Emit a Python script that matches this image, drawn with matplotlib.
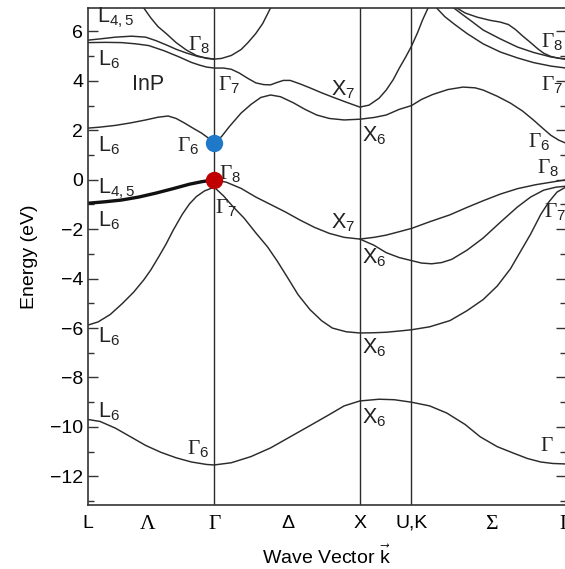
import matplotlib
matplotlib.use("Agg")
import matplotlib.pyplot as plt
from matplotlib.ticker import MultipleLocator

plt.rcParams['font.family'] = ['Liberation Sans', 'DejaVu Sans']
plt.rcParams['mathtext.fontset'] = 'custom'
plt.rcParams['mathtext.rm'] = 'Liberation Sans'
plt.rcParams['mathtext.default'] = 'rm'

# high symmetry points along the path (units of 2pi/a)
sym_names = ['L', 'Λ', 'Γ', 'Δ', 'X', 'U,K', 'Σ', 'Γ']
sym_k = [0.0, 0.41, 0.866, 1.37, 1.866, 2.220, 2.768, 3.281]
vlines_k = [0.866, 1.866, 2.220]

# valence bands
k_v1 = [0, 0.083, 0.188, 0.292, 0.396, 0.501, 0.605, 0.710, 0.814, 0.866, 0.984, 1.119, 1.253,
        1.388, 1.523, 1.657, 1.758, 1.866, 1.998, 2.102, 2.220, 2.345, 2.463, 2.588, 2.692,
        2.809, 2.920, 3.017, 3.108, 3.191, 3.281]
e_v1 = [-9.70, -9.78, -10.05, -10.40, -10.75, -11.03, -11.25, -11.42, -11.52, -11.54, -11.45,
        -11.20, -10.85, -10.40, -9.95, -9.50, -9.15, -8.95, -8.88, -8.90, -9.00, -9.15, -9.44,
        -9.90, -10.40, -10.80, -11.06, -11.28, -11.42, -11.48, -11.50]

k_v2 = [0, 0.070, 0.153, 0.237, 0.313, 0.383, 0.431, 0.487, 0.536, 0.584, 0.647, 0.696, 0.744,
        0.800, 0.866, 0.930, 0.997, 1.071, 1.152, 1.233, 1.300, 1.368, 1.442, 1.523, 1.603,
        1.677, 1.772, 1.866, 1.963, 2.047, 2.137, 2.220, 2.345, 2.484, 2.601, 2.712, 2.809,
        2.900, 2.969, 3.038, 3.108, 3.163, 3.219, 3.281]
e_v2 = [-5.88, -5.75, -5.45, -5.00, -4.55, -4.05, -3.65, -3.10, -2.60, -2.05, -1.40, -0.98,
        -0.68, -0.45, -0.30, -0.65, -1.10, -1.55, -2.15, -2.72, -3.30, -3.94, -4.65, -5.25,
        -5.70, -6.00, -6.15, -6.20, -6.19, -6.17, -6.12, -6.07, -5.95, -5.70, -5.30, -4.85,
        -4.30, -3.60, -2.90, -2.20, -1.40, -0.90, -0.50, -0.29]

# L4,5 / L6 pair, drawn as one heavy line
k_hh = [0, 0.118, 0.230, 0.348, 0.466, 0.584, 0.696, 0.779, 0.866]
e_hh = [-0.95, -0.89, -0.82, -0.70, -0.54, -0.36, -0.18, -0.08, 0.0]

k_v3 = [0.866, 0.950, 1.051, 1.152, 1.253, 1.354, 1.455, 1.556, 1.657, 1.758, 1.866, 1.963,
        2.047, 2.137, 2.220, 2.345, 2.484, 2.601, 2.712, 2.830, 2.948, 3.073, 3.177, 3.281]
e_v3 = [0.0, -0.10, -0.35, -0.70, -1.00, -1.30, -1.63, -1.93, -2.17, -2.33, -2.40, -2.33,
        -2.24, -2.10, -1.97, -1.70, -1.42, -1.12, -0.85, -0.58, -0.36, -0.20, -0.10, 0.0]

k_v4 = [1.866, 1.963, 2.047, 2.137, 2.220, 2.289, 2.359, 2.428, 2.497, 2.601, 2.712, 2.830,
        2.948, 3.038, 3.128, 3.212, 3.281]
e_v4 = [-2.40, -2.65, -2.95, -3.15, -3.27, -3.37, -3.40, -3.35, -3.22, -2.85, -2.36, -1.72,
        -1.10, -0.70, -0.42, -0.30, -0.26]

# conduction bands
k_c1 = [0, 0.083, 0.188, 0.292, 0.396, 0.480, 0.550, 0.605, 0.661, 0.723, 0.779, 0.828, 0.866,
        0.917, 0.970, 1.051, 1.119, 1.186, 1.253, 1.321, 1.408, 1.489, 1.570, 1.657, 1.758,
        1.866, 1.963, 2.047, 2.137, 2.220, 2.289, 2.366, 2.470, 2.574, 2.657, 2.712, 2.809,
        2.900, 2.983, 3.059, 3.122, 3.177, 3.232, 3.281]
e_c1 = [2.09, 2.13, 2.20, 2.30, 2.42, 2.53, 2.58, 2.48, 2.30, 2.08, 1.89, 1.68, 1.48, 1.75,
        2.15, 2.70, 3.05, 3.33, 3.43, 3.36, 3.12, 2.85, 2.62, 2.48, 2.42, 2.45, 2.52, 2.62,
        2.85, 3.00, 3.25, 3.45, 3.65, 3.75, 3.72, 3.63, 3.38, 3.10, 2.78, 2.41, 2.08, 1.80,
        1.60, 1.48]

k_c2 = [0, 0.118, 0.230, 0.327, 0.417, 0.522, 0.626, 0.709, 0.765, 0.814, 0.866, 0.930, 0.984,
        1.038, 1.092, 1.152, 1.206, 1.253, 1.294, 1.341, 1.388, 1.455, 1.523, 1.603, 1.677,
        1.772, 1.866, 1.929, 1.998, 2.047, 2.095, 2.137, 2.179, 2.220, 2.262, 2.296, 2.334, 2.352]
e_c2 = [5.55, 5.56, 5.55, 5.50, 5.43, 5.22, 4.97, 4.75, 4.64, 4.56, 4.52, 4.52, 4.47, 4.32,
        4.12, 3.92, 3.85, 3.84, 3.93, 4.02, 4.02, 3.88, 3.72, 3.52, 3.35, 3.14, 2.94, 3.02,
        3.30, 3.63, 4.05, 4.52, 4.95, 5.40, 5.95, 6.46, 6.95, 7.20]

k_c3 = [0, 0.083, 0.188, 0.299, 0.396, 0.466, 0.536, 0.605, 0.675, 0.758, 0.866]
e_c3 = [5.65, 5.70, 5.77, 5.81, 5.77, 5.63, 5.46, 5.28, 5.13, 4.98, 4.88]

k_c4 = [0.369, 0.383, 0.431, 0.480, 0.536, 0.605, 0.675, 0.744, 0.814, 0.866, 0.917, 0.984,
        1.051, 1.098, 1.152, 1.199, 1.253, 1.267]
e_c4 = [7.10, 6.95, 6.55, 6.20, 5.92, 5.55, 5.25, 5.03, 4.91, 4.88, 4.91, 5.03, 5.27, 5.55,
        5.92, 6.32, 6.95, 7.10]

k_c5 = [2.380, 2.393, 2.449, 2.518, 2.601, 2.712, 2.830, 2.948, 3.059, 3.177, 3.281]
e_c5 = [7.10, 6.95, 6.60, 6.28, 5.92, 5.50, 5.17, 4.93, 4.74, 4.60, 4.52]

k_c6 = [2.497, 2.511, 2.567, 2.636, 2.712, 2.830, 2.948, 3.059, 3.177, 3.281]
e_c6 = [7.10, 6.95, 6.70, 6.40, 6.06, 5.70, 5.37, 5.15, 4.97, 4.88]

k_c7 = [2.518, 2.532, 2.588, 2.671, 2.761, 2.830, 2.886, 2.934, 2.983, 3.038, 3.087, 3.128,
        3.177, 3.226, 3.281]
e_c7 = [7.10, 6.95, 6.75, 6.58, 6.45, 6.38, 6.28, 6.08, 5.82, 5.55, 5.30, 5.12, 4.99, 4.92, 4.88]

# band edges marked with dots
gap_k = [0.866, 0.866]
gap_e = [1.48, 0.0]
gap_colors = ['#1f78c8', '#c00000']

# state labels: text, k, E, alignment, serif
state_labels = [
    ('L$_{4,5}$', 0.063, 6.55, 'left', False),
    ('L$_6$', 0.070, 4.85, 'left', False),
    ('Γ$_8$', 0.838, 5.45, 'right', True),
    ('InP', 0.41, 3.87, 'center', False),
    ('Γ$_7$', 0.892, 3.83, 'left', True),
    ('L$_6$', 0.070, 1.36, 'left', False),
    ('Γ$_6$', 0.765, 1.36, 'right', True),
    ('Γ$_8$', 0.900, 0.24, 'left', True),
    ('L$_{4,5}$', 0.070, -0.38, 'left', False),
    ('L$_6$', 0.070, -1.67, 'left', False),
    ('Γ$_7$', 0.870, -1.14, 'left', True),
    ('L$_6$', 0.070, -6.36, 'left', False),
    ('L$_6$', 0.070, -9.40, 'left', False),
    ('Γ$_6$', 0.835, -10.9, 'right', True),
    ('X$_7$', 1.832, 3.63, 'right', False),
    ('X$_6$', 1.880, 1.77, 'left', False),
    ('X$_7$', 1.832, -1.72, 'right', False),
    ('X$_6$', 1.880, -3.17, 'left', False),
    ('X$_6$', 1.880, -6.80, 'left', False),
    ('X$_6$', 1.880, -9.64, 'left', False),
    ('Γ$_8$', 3.262, 5.57, 'right', True),
    ('Γ$_7$', 3.262, 3.83, 'right', True),
    ('Γ$_6$', 3.177, 1.53, 'right', True),
    ('Γ$_8$', 3.235, 0.47, 'right', True),
    ('Γ$_7$', 3.128, -1.31, 'left', True),
    ('Γ', 3.108, -10.8, 'left', True),
]

line_col = '#2b2b2b'

fig = plt.figure(figsize=(5.65, 5.69), dpi=100)
ax = fig.add_axes([88 / 565, 1 - 505 / 569, 478 / 565, 497 / 569])

bands = [(k_v1, e_v1), (k_v2, e_v2), (k_v3, e_v3), (k_v4, e_v4),
         (k_c1, e_c1), (k_c2, e_c2), (k_c3, e_c3), (k_c4, e_c4),
         (k_c5, e_c5), (k_c6, e_c6), (k_c7, e_c7)]
for kk, ee in bands:
    ax.plot(kk, ee, color=line_col, lw=1.05, solid_capstyle='round')
ax.plot(k_hh, e_hh, color='#111111', lw=2.4, solid_capstyle='round')

for kv in vlines_k:
    ax.axvline(kv, color=line_col, lw=1.0)

for kk, ee, cc in zip(gap_k, gap_e, gap_colors):
    ax.plot(kk, ee, 'o', color=cc, markersize=11.5, zorder=5)

for txt, kk, ee, ha, serif in state_labels:
    fam = 'Liberation Serif' if serif else 'Liberation Sans'
    ax.text(kk, ee, txt, ha=ha, va='center', fontsize=15.5, family=fam, color='#222222')

ax.set_xlim(0, 3.281)
ax.set_ylim(-13.16, 6.95)

ax.yaxis.set_major_locator(MultipleLocator(2))
ax.yaxis.set_minor_locator(MultipleLocator(1))
ax.tick_params(axis='y', which='both', direction='in', left=True, right=True,
               labelsize=14, width=1.0, color='#333333')
ax.tick_params(axis='y', which='major', length=7)
ax.tick_params(axis='y', which='minor', length=4)

ax.set_xticks(sym_k)
ax.set_xticklabels(sym_names)
ax.tick_params(axis='x', length=0, pad=7, labelsize=14)
for lab in ax.get_xticklabels():
    if lab.get_text() in ('Γ', 'Λ', 'Σ'):
        lab.set_family('Liberation Serif')
        lab.set_fontsize(15.5)

for sp in ax.spines.values():
    sp.set_linewidth(1.2)
    sp.set_color('#333333')

ax.set_ylabel('Energy (eV)', fontsize=14, labelpad=9)
ax.set_xlabel('Wave Vector $\\vec{k}$', fontsize=14, labelpad=8)

fig.savefig('out.png', dpi=100)
